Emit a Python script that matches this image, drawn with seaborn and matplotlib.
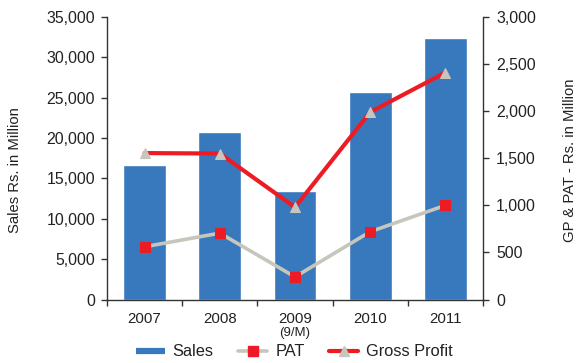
import numpy as np
import matplotlib
matplotlib.use("Agg")
import matplotlib.pyplot as plt
import seaborn as sns
from matplotlib.lines import Line2D
from matplotlib.ticker import StrMethodFormatter

# Data
years = ["2007", "2008", "2009", "2010", "2011"]
sales = [16700, 20800, 13500, 25700, 32400]
pat = [560, 705, 240, 720, 1000]
gross_profit = [1555, 1550, 980, 1990, 2410]

BLUE = "#3878bd"
RED = "#ed1c24"
GREY = "#c6c6bc"
TEXT = "#222222"

sns.set_theme(style="white")
plt.rcParams["font.family"] = ["Liberation Sans", "DejaVu Sans"]

fig = plt.figure(figsize=(5.77, 3.63), dpi=100)
ax = fig.add_axes([107 / 577, 1 - 299.5 / 363, (483 - 107) / 577, (299.5 - 17) / 363])

# Sales bars
sns.barplot(x=years, y=sales, color=BLUE, saturation=1, width=0.57, ax=ax, zorder=1)
ax.set_xlim(-0.5, len(years) - 0.5)
ax.set_ylim(0, 35000)
ax.set_yticks(np.arange(0, 35001, 5000))
ax.yaxis.set_major_formatter(StrMethodFormatter("{x:,.0f}"))
ax.set_xlabel("")
ax.set_ylabel("Sales Rs. in Million", fontsize=10.7, color=TEXT)
ax.yaxis.set_label_coords(-0.226, 0.458)

# GP & PAT lines on the secondary axis
ax2 = ax.twinx()
xpos = np.arange(len(years))
sns.lineplot(x=xpos, y=pat, ax=ax2, color=GREY, lw=2.6, marker="s",
             markersize=6.5, markerfacecolor=RED, markeredgecolor=RED, zorder=3)
sns.lineplot(x=xpos, y=gross_profit, ax=ax2, color=RED, lw=3, marker="^",
             markersize=7.5, markerfacecolor=GREY, markeredgecolor=GREY, zorder=4)
ax2.set_ylim(0, 3000)
ax2.set_yticks(np.arange(0, 3001, 500))
ax2.yaxis.set_major_formatter(StrMethodFormatter("{x:,.0f}"))
ax2.set_ylabel("GP & PAT - Rs. in Million", fontsize=10.7, color=TEXT)
ax2.yaxis.set_label_coords(1.213, 0.494)
ax2.set_xlim(-0.5, len(years) - 0.5)

# Axis styling
for a in (ax, ax2):
    a.spines["top"].set_visible(False)
    for s in ("left", "right", "bottom"):
        a.spines[s].set_color("#333333")
        a.spines[s].set_linewidth(1.0)
    a.tick_params(axis="y", direction="out", length=4, width=1, color="#333333",
                  labelsize=11.4, labelcolor=TEXT, pad=4.5)
ax.spines["right"].set_visible(False)
ax2.spines["left"].set_visible(False)
ax2.spines["bottom"].set_visible(False)
ax.tick_params(axis="y", left=True)
ax2.tick_params(axis="y", right=True, pad=5.5)

# Category ticks between bars, labels centred under bars
ax.set_xticks(xpos)
ax.set_xticklabels(years)
ax.set_xticks(np.arange(-0.5, len(years), 1), minor=True)
ax.tick_params(axis="x", which="major", length=0, labelsize=10.8, labelcolor=TEXT, pad=9)
ax.tick_params(axis="x", which="minor", bottom=True, direction="out", length=4,
               width=1, color="#333333")
ax.annotate("(9/M)", xy=(2, 0), xycoords=("data", "axes fraction"),
            xytext=(0, -24), textcoords="offset points", ha="center", va="center",
            fontsize=9.5, color=TEXT)

# Legend
handles = [
    Line2D([], [], color=BLUE, lw=4.5, solid_capstyle="butt"),
    Line2D([], [], color=GREY, lw=2.6, marker="s", markersize=6.5,
           markerfacecolor=RED, markeredgecolor=RED),
    Line2D([], [], color=RED, lw=3, marker="^", markersize=7.5,
           markerfacecolor=GREY, markeredgecolor=GREY),
]
fig.legend(handles, ["Sales", "PAT", "Gross Profit"], loc="center",
           bbox_to_anchor=(0.51, 1 - 352 / 363), ncol=3, frameon=False,
           fontsize=11.8, handlelength=1.75, handletextpad=0.5, columnspacing=1.5,
           labelcolor=TEXT)

fig.savefig("out.png", dpi=100)
